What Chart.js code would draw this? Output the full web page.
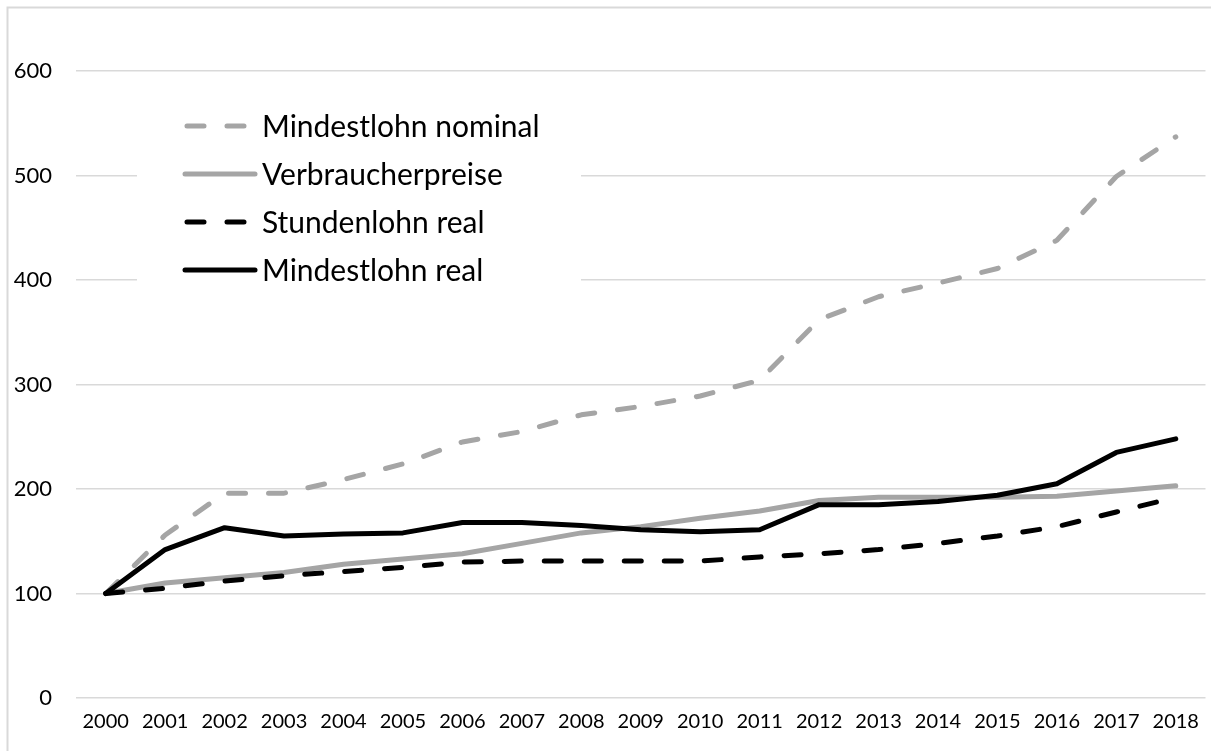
<!DOCTYPE html>
<html>
<head>
<meta charset="utf-8">
<title>Mindestlohn</title>
<script src="https://cdn.jsdelivr.net/npm/chart.js@4.4.1/dist/chart.umd.min.js"></script>
<style>
    html, body { margin: 0; padding: 0; background: #fff; }
    #chart_container { position: relative; width: 1211px; height: 751px; }
</style>
</head>
<body>
<div id="chart_container">
    <canvas id="lohn_chart"></canvas>
</div>
<script>
var years = ['2000', '2001', '2002', '2003', '2004', '2005', '2006', '2007', '2008', '2009',
             '2010', '2011', '2012', '2013', '2014', '2015', '2016', '2017', '2018'];

var mindestlohnNominal = [100, 156, 196, 196, 209, 224, 245, 255, 271, 279,
                          289, 304, 362, 384, 397, 411, 438, 499, 537];
var verbraucherpreise  = [100, 110, 115, 120, 128, 133, 138, 148, 158, 164,
                          172, 179, 189, 192, 192, 192, 193, 198, 203];
var stundenlohnReal    = [100, 105, 112, 117, 121, 125, 130, 131, 131, 131,
                          131, 135, 138, 142, 148, 155, 164, 178, 192];
var mindestlohnReal    = [100, 142, 163, 155, 157, 158, 168, 168, 165, 161,
                          159, 161, 185, 185, 188, 194, 205, 235, 248];

var yTicks = [0, 100, 200, 300, 400, 500, 600];

var GREY = '#a5a5a5';
var GRID = '#d9d9d9';
var DASH = [17, 23];
var FONT = 'Lato, "Open Sans", sans-serif';

// light frame round the whole chart
var framePlugin = {
    id: 'frame',
    beforeDraw: function (chart) {
        var ctx = chart.ctx;
        ctx.save();
        ctx.strokeStyle = GRID;
        ctx.lineWidth = 2;
        ctx.strokeRect(7.5, 7.5, chart.width + 20, chart.height + 20);
        ctx.restore();
    }
};

// legend sits inside the plot on a white box
var boxLegend = {
    id: 'boxLegend',
    afterDraw: function (chart) {
        var ctx = chart.ctx;
        var x0 = 185, x1 = 255, textX = 262, y = 126, step = 48;
        ctx.save();
        ctx.fillStyle = '#fff';
        ctx.fillRect(137, 92, 444, 208);
        ctx.font = '30px ' + FONT;
        ctx.textBaseline = 'middle';
        chart.data.datasets.forEach(function (ds, i) {
            var yy = y + i * step;
            ctx.beginPath();
            ctx.strokeStyle = ds.borderColor;
            ctx.lineWidth = ds.borderWidth;
            ctx.lineCap = 'round';
            ctx.setLineDash(ds.borderDash || []);
            ctx.moveTo(x0 + (ds.borderDash ? 2 : 0), yy);
            ctx.lineTo(x1, yy);
            ctx.stroke();
            ctx.setLineDash([]);
            ctx.fillStyle = '#000';
            ctx.fillText(ds.label, textX, yy + 1);
        });
        ctx.restore();
    }
};

function lineSet(label, data, color, dash, order) {
    return {
        label: label,
        data: data,
        borderColor: color,
        backgroundColor: color,
        borderWidth: 5,
        borderDash: dash,
        borderCapStyle: 'round',
        borderJoinStyle: 'round',
        pointRadius: 0,
        pointHoverRadius: 0,
        tension: 0,
        fill: false,
        order: order
    };
}

var ctx = document.getElementById('lohn_chart').getContext('2d');

var lohn_chart = new Chart(ctx, {
    type: 'line',
    data: {
        labels: years,
        datasets: [
            lineSet('Mindestlohn nominal', mindestlohnNominal, GREY, DASH, 4),
            lineSet('Verbraucherpreise', verbraucherpreise, GREY, undefined, 3),
            lineSet('Stundenlohn real', stundenlohnReal, '#000', DASH, 2),
            lineSet('Mindestlohn real', mindestlohnReal, '#000', undefined, 1)
        ]
    },
    options: {
        responsive: true,
        maintainAspectRatio: false,
        animation: false,
        layout: {
            padding: { top: 71, right: 1, bottom: 0, left: 0 }
        },
        plugins: {
            legend: { display: false },
            title: { display: false },
            tooltip: { enabled: false }
        },
        scales: {
            x: {
                offset: true,
                border: { display: false },
                grid: { display: false, drawTicks: false },
                ticks: {
                    color: '#000',
                    font: { family: FONT, size: 20 },
                    padding: 12,
                    maxRotation: 0,
                    autoSkip: false
                },
                afterFit: function (scale) { scale.height = 53; }
            },
            y: {
                min: 0,
                max: 600,
                border: { display: false },
                grid: { color: GRID, lineWidth: 1.5, drawTicks: false },
                ticks: {
                    color: '#000',
                    font: { family: FONT, size: 22 },
                    padding: 24,
                    stepSize: 100
                },
                afterBuildTicks: function (scale) {
                    scale.ticks = yTicks.map(function (v) { return { value: v }; });
                },
                afterFit: function (scale) { scale.width = 76; }
            }
        }
    },
    plugins: [framePlugin, boxLegend]
});
</script>
</body>
</html>
